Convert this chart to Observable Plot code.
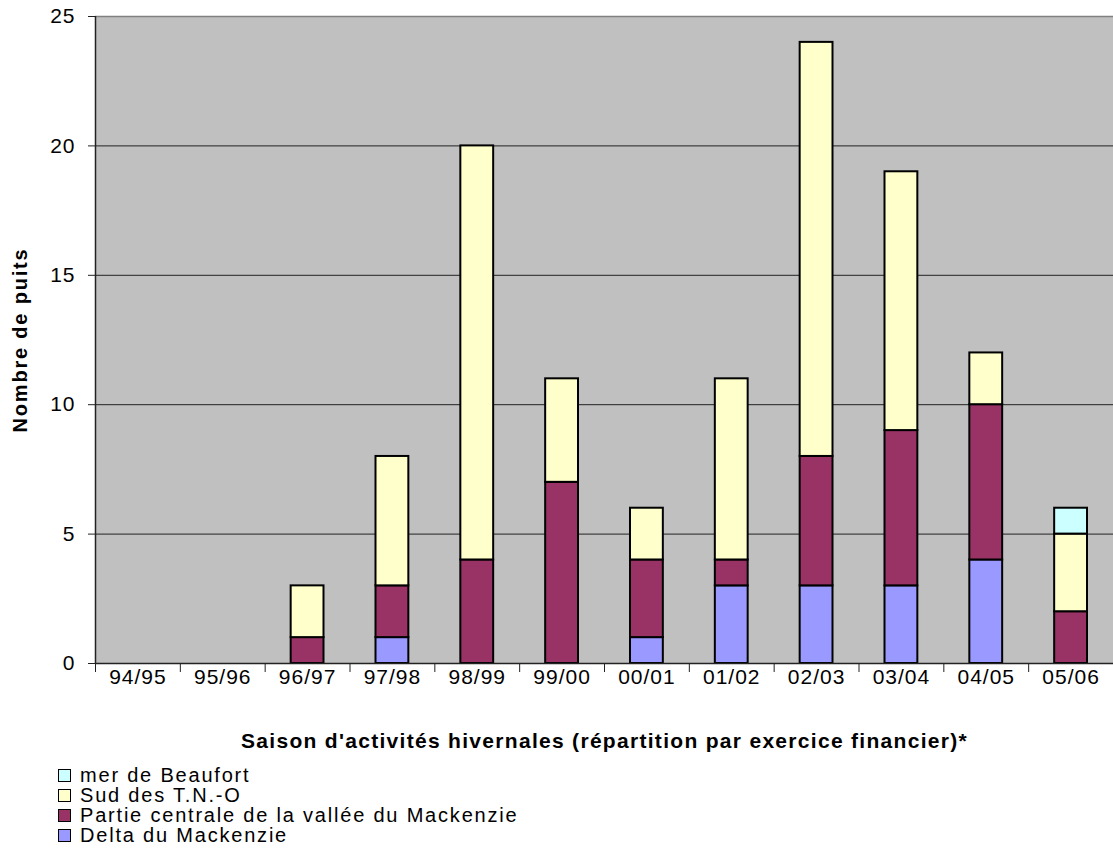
<!DOCTYPE html>
<html>
<head>
<meta charset="utf-8">
<script src="https://cdn.jsdelivr.net/npm/d3@7"></script>
<script src="https://cdn.jsdelivr.net/npm/@observablehq/plot@0.6"></script>
<style>
  html, body { margin: 0; padding: 0; background: #fff; }
  #chart { position: relative; width: 1113px; height: 852px; font-family: "Liberation Sans", Arial, sans-serif; }
  #legend { position: absolute; left: 58px; top: 765px; font-size: 20px; letter-spacing: 1.8px; color: #000; }
  .row { display: flex; align-items: center; height: 20px; }
  .row span { display: block; height: 20px; line-height: 20px; overflow: visible; white-space: nowrap; }
  .sw { width: 11px; height: 11px; border: 1.5px solid #000; margin-right: 9px; flex: none; }
</style>
</head>
<body>
<div id="chart"></div>
<script>
const seasons = ["94/95","95/96","96/97","97/98","98/99","99/00","00/01","01/02","02/03","03/04","04/05","05/06"];
const seriesNames = ["Delta du Mackenzie", "Partie centrale de la vallée du Mackenzie", "Sud des T.N.-O", "mer de Beaufort"];
const seriesColors = ["#9999FF", "#993366", "#FFFFCC", "#CCFFFF"];
const delta    = [0,0,0,1,0,0,1,3,3,3,4,0];
const centrale = [0,0,1,2,4,7,3,1,5,6,6,2];
const sud      = [0,0,2,5,16,4,2,7,16,10,2,3];
const beaufort = [0,0,0,0,0,0,0,0,0,0,0,1];
const yTicks = [0,5,10,15,20,25];
const xTitle = "Saison d'activités hivernales (répartition par exercice financier)*";
const yTitle = "Nombre de puits";

const values = [delta, centrale, sud, beaufort];
const rows = [];
seasons.forEach((s, i) => {
  let cum = 0;
  seriesNames.forEach((name, k) => {
    const v = values[k][i];
    if (v > 0) rows.push({i, season: s, series: name, y1: cum, y2: cum + v});
    cum += v;
  });
});

const plot = Plot.plot({
  width: 1113,
  height: 760,
  marginLeft: 95,
  marginRight: 0,
  marginTop: 16,
  marginBottom: 97,
  style: {fontFamily: "'Liberation Sans', Arial, sans-serif", fontSize: "21px", color: "#000", background: "transparent"},
  x: {type: "linear", domain: [0, seasons.length]},
  y: {domain: [0, 25]},
  color: {domain: seriesNames, range: seriesColors},
  marks: [
    Plot.frame({fill: "#C0C0C0", stroke: null}),
    Plot.ruleY([5,10,15,20], {stroke: "#222", strokeWidth: 1}),
    Plot.ruleY([25], {stroke: "#808080", strokeWidth: 1.5}),
    Plot.rect(rows, {x1: "i", x2: d => d.i + 1, y1: "y1", y2: "y2", fill: "series", insetLeft: 26, insetRight: 26, stroke: "#000", strokeWidth: 2}),
    Plot.ruleY([0], {stroke: "#222", strokeWidth: 1.5}),
    Plot.ruleX([0], {stroke: "#222", strokeWidth: 1.5}),
    Plot.axisY(yTicks, {tickSize: 7, tickPadding: 13, tickFormat: "d", label: null, stroke: "#222"}),
    Plot.axisX(d3.range(seasons.length + 1), {tickSize: 9, tickFormat: () => "", label: null, stroke: "#222"}),
    Plot.axisX(d3.range(seasons.length).map(i => i + 0.5), {tickSize: 0, tickPadding: 6, tickFormat: v => seasons[Math.floor(v)], label: null}),
    Plot.text([xTitle], {frameAnchor: "bottom", lineAnchor: "middle", dy: 78, fontWeight: "bold", fontSize: 21, className: "xtitle"}),
    Plot.text([yTitle], {frameAnchor: "left", textAnchor: "middle", dx: -75, rotate: -90, fontWeight: "bold", fontSize: 20, className: "ytitle"})
  ]
});
document.getElementById("chart").appendChild(plot);
d3.select(plot).selectAll("text").style("letter-spacing", "1px");
d3.select(plot).selectAll(".xtitle text").style("letter-spacing", "1.3px");
d3.select(plot).selectAll(".ytitle text").style("letter-spacing", "1.8px");

const legend = d3.select("#chart").append("div").attr("id", "legend");
seriesNames.map((n, k) => ({n, c: seriesColors[k]})).reverse().forEach(d => {
  const r = legend.append("div").attr("class", "row");
  r.append("div").attr("class", "sw").style("background", d.c);
  r.append("span").text(d.n);
});
</script>
</body>
</html>
